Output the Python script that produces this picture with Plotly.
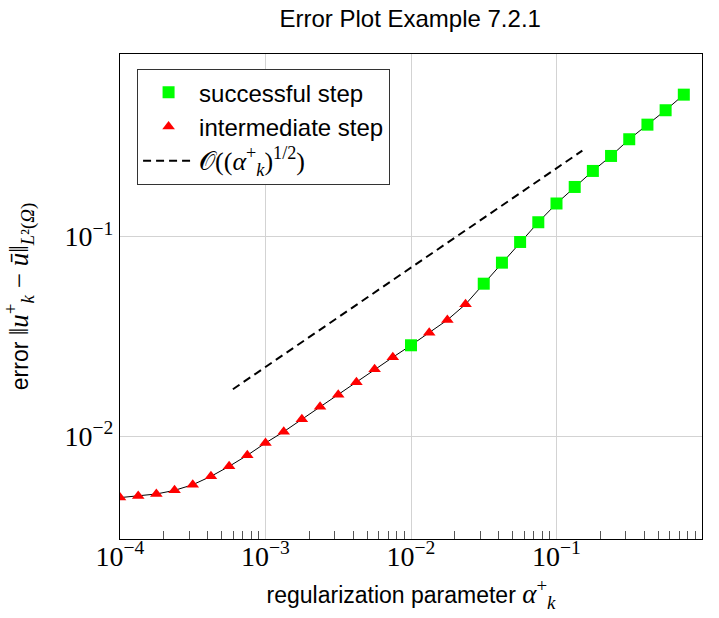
import plotly.graph_objects as go

# ---- data ----
alpha = [1.000e-4, 1.334e-4, 1.778e-4, 2.371e-4, 3.162e-4, 4.217e-4, 5.623e-4, 7.499e-4,
         1.000e-3, 1.334e-3, 1.778e-3, 2.371e-3, 3.162e-3, 4.217e-3, 5.623e-3, 7.499e-3,
         1.000e-2, 1.334e-2, 1.778e-2, 2.371e-2, 3.162e-2, 4.217e-2, 5.623e-2, 7.499e-2,
         1.000e-1, 1.334e-1, 1.778e-1, 2.371e-1, 3.162e-1, 4.217e-1, 5.623e-1, 7.499e-1]
error = [0.00493, 0.00502, 0.00514, 0.00536, 0.00572, 0.00630, 0.00707, 0.00803,
         0.00926, 0.01054, 0.01217, 0.01407, 0.01616, 0.01865, 0.02166, 0.02487,
         0.02857, 0.03304, 0.03825, 0.04584, 0.05813, 0.07409, 0.09406, 0.1181,
         0.1466, 0.1774, 0.2134, 0.2537, 0.3076, 0.3640, 0.4298, 0.5145]
step = ["i"] * 16 + ["s"] + ["i"] * 3 + ["s"] * 12

ref_alpha = [5.97e-4, 0.1505]
ref_error = [0.0172, 0.2698]

x_tickvals = [1e-4, 1e-3, 1e-2, 1e-1, 1]
x_ticktext = ["10<sup>−4</sup>", "10<sup>−3</sup>", "10<sup>−2</sup>", "10<sup>−1</sup>", "10<sup>0</sup>"]
y_tickvals = [1e-2, 1e-1]
y_ticktext = ["10<sup>−2</sup>", "10<sup>−1</sup>"]

SANS = "Liberation Sans"
SERIF = "Liberation Serif"
def m(s, size=27):
    return f'<span style="font-family:{SERIF};font-size:{size}px">{s}</span>'

x_minor = [d * 10.0 ** e for e in range(-4, 0) for d in range(2, 10)]

succ_x = [a for a, s in zip(alpha, step) if s == "s"]
succ_y = [e for e, s in zip(error, step) if s == "s"]
int_x = [a for a, s in zip(alpha, step) if s == "i"]
int_y = [e for e, s in zip(error, step) if s == "i"]

fig = go.Figure()
fig.add_trace(go.Scatter(x=alpha, y=error, mode="lines",
                         line=dict(color="black", width=1), showlegend=False,
                         hoverinfo="skip"))
fig.add_trace(go.Scatter(x=succ_x, y=succ_y, mode="markers", name="successful step",
                         marker=dict(symbol="square", size=12, color="#00ff00",
                                     line=dict(width=0))))
fig.add_trace(go.Scatter(x=int_x, y=int_y, mode="markers", name="intermediate step",
                         marker=dict(symbol="triangle-up", size=11, color="#ff0000",
                                     line=dict(width=0))))
fig.add_trace(go.Scatter(x=ref_alpha, y=ref_error, mode="lines",
                         name=m("𝒪((<i>α</i><sup>+</sup><sub><i>k</i></sub>)<sup>1/2</sup>)", 26),
                         line=dict(color="black", width=2, dash="8px,5px")))
# invisible trace carrying the minor-tick overlay axis
fig.add_trace(go.Scatter(x=[alpha[0]], y=[error[0]], xaxis="x2", yaxis="y",
                         mode="markers", marker=dict(opacity=0), showlegend=False,
                         hoverinfo="skip"))

axis_common = dict(
    type="log", showline=True, linecolor="black", linewidth=1.2, mirror=True,
    ticks="", showgrid=True, gridcolor="#d3d3d3", gridwidth=1, zeroline=False,
    tickfont=dict(family=SERIF, size=28, color="black"),
)

fig.update_layout(
    xaxis=dict(range=[-4, 0], tickvals=x_tickvals, ticktext=x_ticktext, ticklabelstandoff=-8,
               title=dict(text="regularization parameter " + m("<i>α</i><sup>+</sup><sub><i>k</i></sub>"),
                          font=dict(family=SANS, size=23, color="black"), standoff=16),
               **axis_common),
    xaxis2=dict(type="log", range=[-4, 0], overlaying="x", side="bottom", tickvals=x_minor,
                ticks="inside", ticklen=8, tickwidth=1, tickcolor="#555",
                showticklabels=False, showgrid=False, showline=False, zeroline=False),
    yaxis=dict(range=[-2.5145, -0.085], tickvals=y_tickvals, ticktext=y_ticktext,
               title=dict(text="error " + m("‖<i>u</i><sup>+</sup><sub><i>k</i></sub> − <i>ū</i>‖<sub><i>L</i>²(<i>Ω</i>)</sub>"),
                          font=dict(family=SANS, size=23, color="black"), standoff=32),
               **axis_common),
)

fig.update_layout(
    width=719, height=618,
    margin=dict(l=120, r=17, t=54, b=79),
    paper_bgcolor="white", plot_bgcolor="white",
    title=dict(text="Error Plot Example 7.2.1", x=0.5705, xanchor="center", y=0.97, yanchor="middle",
               font=dict(family=SANS, size=24, color="black")),
    legend=dict(x=0.029, y=0.969, xanchor="left", yanchor="top",
                bgcolor="white", bordercolor="#333", borderwidth=1.2,
                font=dict(family=SANS, size=24, color="black"), itemwidth=51),
)

fig.write_html("out.html")
